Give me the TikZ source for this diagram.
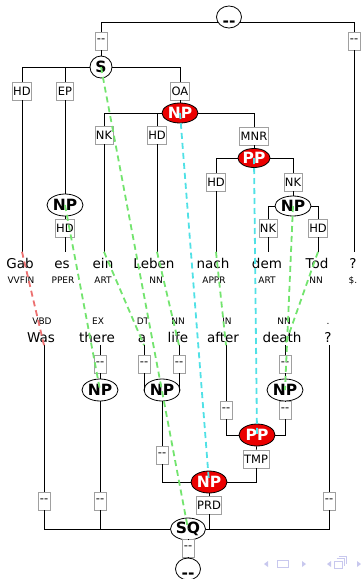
\documentclass[tikz,border=0pt]{standalone}
\usepackage{fontspec}
\setmainfont{DejaVu Sans}
\usetikzlibrary{shapes.geometric}

\definecolor{catred}{RGB}{235,0,0}
\definecolor{boxgray}{RGB}{160,160,160}
\definecolor{algreen}{RGB}{115,228,110}
\definecolor{alcyan}{RGB}{80,225,230}
\definecolor{alpink}{RGB}{236,112,112}
\definecolor{navcol}{RGB}{200,200,238}

\tikzset{
  lbl/.style={draw=boxgray, fill=white, line width=0.8pt, inner sep=1pt,
    minimum height=18pt, minimum width=12pt, font=\fontsize{11.5}{13}\selectfont},
  cat/.style={ellipse, draw=black, fill=white, line width=0.8pt, inner sep=0pt,
    minimum width=36pt, minimum height=21pt, font=\fontsize{15.5}{18}\selectfont\bfseries},
  hicat/.style={cat, fill=catred, text=white},
  toka/.style={anchor=base, inner xsep=0pt, inner ysep=6pt, text height=10pt,
    text depth=3pt, font=\fontsize{13.5}{16}\selectfont},
  tokb/.style={anchor=base, inner xsep=0pt, inner ysep=0pt, text height=10pt,
    text depth=3pt, font=\fontsize{13.5}{16}\selectfont},
  postag/.style={anchor=base, inner sep=0pt, font=\fontsize{9}{11}\selectfont},
  treeln/.style={draw=black, line width=0.8pt},
  alnline/.style={dash pattern=on 6pt off 4pt, line width=1.8pt},
  navtri/.style={fill=navcol, draw=none},
  navbox/.style={draw=navcol, line width=0.9pt}
}

\newcommand{\dd}{-{}-}
\newcommand{\rootdash}{\raisebox{-9pt}[0pt][0pt]{\dd}}

\begin{document}
\begin{tikzpicture}[x=1pt,y=-1pt]
\useasboundingbox (0,0) rectangle (360,579);

% ---------- German sentence: words and POS tags ----------
\node[toka] (wGab)   at (20,268)  {Gab};
\node[toka] (wEs)    at (62,268)  {es};
\node[toka] (wEin)   at (103,268) {ein};
\node[toka] (wLeben) at (154,268) {Leben};
\node[toka] (wNach)  at (213,268) {nach};
\node[toka] (wDem)   at (267,268) {dem};
\node[toka] (wTod)   at (317,268) {Tod};
\node[toka] (wQa)    at (353,268) {?};

\node[postag] (tGab)   at (21,283)  {VVFIN};
\node[postag] (tEs)    at (63,283)  {PPER};
\node[postag] (tEin)   at (103,283) {ART};
\node[postag] (tLeben) at (156,283) {NN};
\node[postag] (tNach)  at (214,283) {APPR};
\node[postag] (tDem)   at (267,283) {ART};
\node[postag] (tTod)   at (316,283) {NN};
\node[postag] (tQa)    at (353,283) {\$.};

% ---------- English sentence: POS tags and words ----------
\node[postag] (tWas)   at (42,324)  {VBD};
\node[postag] (tThere) at (98,324)  {EX};
\node[postag] (tA)     at (143,324) {DT};
\node[postag] (tLife)  at (178,324) {NN};
\node[postag] (tAfter) at (227,324) {IN};
\node[postag] (tDeath) at (284,324) {NN};
\node[postag] (tQb)    at (328,324) {.};

\node[tokb] (wWas)   at (41,342)  {Was};
\node[tokb] (wThere) at (97,342)  {there};
\node[tokb] (wA)     at (142,342) {a};
\node[tokb] (wLife)  at (178,342) {life};
\node[tokb] (wAfter) at (223,342) {after};
\node[tokb] (wDeath) at (282,342) {death};
\node[tokb] (wQb)    at (328,342) {?};

% ---------- upper tree ----------
\coordinate (rootbar) at (229,22);
\node[lbl] (bS0) at (101,41) {\dd};
\node[lbl] (bQ0) at (354,41) {\dd};
\node[cat, minimum width=22pt, minimum height=22pt] (S) at (101,67) {S};
\node[lbl] (bHD1) at (22,91)  {HD};
\node[lbl] (bEP)  at (65,91)  {EP};
\node[lbl] (bOA)  at (180,91) {OA};
\node[hicat, minimum height=20pt] (npOA) at (180,113) {NP};
\node[lbl] (bNK1) at (104,135) {NK};
\node[lbl] (bHD2) at (157,135) {HD};
\node[lbl] (bMNR) at (254,136) {MNR};
\node[hicat, minimum width=30pt, minimum height=19pt] (ppMNR) at (254,158) {PP};
\node[lbl] (bHD3) at (216,182) {HD};
\node[lbl] (bNK2) at (293,182) {NK};
\node[cat, minimum height=20pt] (npDT) at (293,206) {NP};
\node[lbl] (bNK3) at (268,228) {NK};
\node[lbl] (bHD4) at (318,228) {HD};
\node[cat, minimum height=22pt] (npES) at (65,205) {NP};
\node[lbl] (bHD5) at (65,228) {HD};

\draw[treeln] (rootbar) -| (bS0);
\draw[treeln] (rootbar) -| (bQ0);
\node[cat, minimum width=25pt, minimum height=22pt] (rootA) at (229,17) {\rootdash};

\draw[treeln] (bS0) -- (S);
\draw[treeln] (S) -| (bHD1);
\draw[treeln] (S) -| (bEP);
\draw[treeln] (S) -| (bOA);
\draw[treeln] (bHD1) -- (bHD1 |- wGab.north);
\draw[treeln] (bEP) -- (npES);
\draw[treeln] (npES) -- (bHD5);
\draw[treeln] (bHD5) -- (bHD5 |- wEs.north);
\draw[treeln] (bOA) -- (npOA);
\draw[treeln] (npOA) -| (bNK1);
\draw[treeln] (npOA) -| (bHD2);
\draw[treeln] (npOA) -| (bMNR);
\draw[treeln] (bNK1) -- (bNK1 |- wEin.north);
\draw[treeln] (bHD2) -- (bHD2 |- wLeben.north);
\draw[treeln] (bMNR) -- (ppMNR);
\draw[treeln] (ppMNR) -| (bHD3);
\draw[treeln] (ppMNR) -| (bNK2);
\draw[treeln] (bHD3) -- (bHD3 |- wNach.north);
\draw[treeln] (bNK2) -- (npDT);
\draw[treeln] (npDT) -| (bNK3);
\draw[treeln] (npDT) -| (bHD4);
\draw[treeln] (bNK3) -- (bNK3 |- wDem.north);
\draw[treeln] (bHD4) -- (bHD4 |- wTod.north);
\draw[treeln] (bQ0) -- (bQ0 |- wQa.north);

% ---------- lower tree ----------
\node[lbl] (bThere1) at (100,364) {\dd};
\node[cat, minimum height=22pt] (npThere) at (100,390) {NP};
\node[lbl] (bA)    at (144,364) {\dd};
\node[lbl] (bLife) at (179,364) {\dd};
\node[cat, minimum height=22pt] (npLife) at (162,390) {NP};
\node[lbl] (bDeath1) at (285,364) {\dd};
\node[cat, minimum height=22pt] (npDeath) at (285,390) {NP};
\node[lbl] (bDeath2) at (285,410) {\dd};
\node[lbl] (bAfter)  at (226,410) {\dd};
\node[hicat, minimum height=22pt] (ppTMP) at (257,435) {PP};
\node[lbl] (bTMP) at (256,459) {TMP};
\node[lbl] (bNPL) at (162,455) {\dd};
\node[hicat, minimum height=22pt] (npPRD) at (209,482) {NP};
\node[lbl] (bPRD) at (209,505) {PRD};
\node[lbl] (bWas)    at (44,501)  {\dd};
\node[lbl] (bThere2) at (100,501) {\dd};
\node[lbl] (bQ2)     at (329,501) {\dd};
\node[cat, minimum width=35pt, minimum height=22pt] (SQ) at (188,529) {SQ};
\node[lbl] (bSQ) at (188,548) {\dd};
\node[cat, minimum width=25pt, minimum height=22pt] (rootB) at (188,569) {\rootdash};

\draw[treeln] (bWas |- wWas.south) -- (bWas);
\draw[treeln] (bThere1 |- wThere.south) -- (bThere1);
\draw[treeln] (bA |- wA.south) -- (bA);
\draw[treeln] (bLife |- wLife.south) -- (bLife);
\draw[treeln] (bAfter |- wAfter.south) -- (bAfter);
\draw[treeln] (bDeath1 |- wDeath.south) -- (bDeath1);
\draw[treeln] (bQ2 |- wQb.south) -- (bQ2);

\draw[treeln] (bThere1) -- (npThere);
\draw[treeln] (npThere) -- (bThere2);
\draw[treeln] (bA) |- (npLife);
\draw[treeln] (bLife) |- (npLife);
\draw[treeln] (npLife) -- (bNPL);
\draw[treeln] (bNPL) |- (npPRD);
\draw[treeln] (bDeath1) -- (npDeath);
\draw[treeln] (npDeath) -- (bDeath2);
\draw[treeln] (bAfter) |- (ppTMP);
\draw[treeln] (bDeath2) |- (ppTMP);
\draw[treeln] (ppTMP) -- (bTMP);
\draw[treeln] (bTMP) |- (npPRD);
\draw[treeln] (npPRD) -- (bPRD);
\draw[treeln] (bWas) |- (SQ);
\draw[treeln] (bThere2) |- (SQ);
\draw[treeln] (bPRD) |- (SQ);
\draw[treeln] (bQ2) |- (SQ);
\draw[treeln] (SQ) -- (bSQ);
\draw[treeln] (bSQ) -- (rootB);

% ---------- alignment links ----------
\draw[alnline, alpink] (bHD1 |- wGab.north) -- (bWas |- wWas.south);
\draw[alnline, algreen] (S.center) -- (SQ.center);
\draw[alnline, algreen] (npES.center) -- (npThere.center);
\draw[alnline, algreen] (bNK1 |- wEin.north) -- (bA |- wA.south);
\draw[alnline, algreen] (bHD2 |- wLeben.north) -- (bLife |- wLife.south);
\draw[alnline, algreen] (bHD3 |- wNach.north) -- (bAfter |- wAfter.south);
\draw[alnline, algreen] (npDT.center) -- (npDeath.center);
\draw[alnline, algreen] (bHD4 |- wTod.north) -- (bDeath1 |- wDeath.south);
\draw[alnline, alcyan] (npOA.center) -- (npPRD.center);
\draw[alnline, alcyan] (ppMNR.center) -- (ppTMP.center);

% ---------- navigation symbols ----------
\fill[navtri] (268,561) -- (264,564) -- (268,567) -- cycle;
\draw[navbox] (277.5,560.5) rectangle (288.5,567.5);
\fill[navtri] (302,561) -- (306,564) -- (302,567) -- cycle;
\fill[navtri] (331,561) -- (327,564) -- (331,567) -- cycle;
\draw[navbox] (334,561) rectangle (342,568);
\draw[navbox] (336.5,558.5) -- (344.5,558.5) -- (344.5,565.5);
\draw[navbox] (338.5,556.5) -- (346.5,556.5) -- (346.5,563.5);
\fill[navtri] (357,561) -- (361,564) -- (357,567) -- cycle;
\end{tikzpicture}
\end{document}
